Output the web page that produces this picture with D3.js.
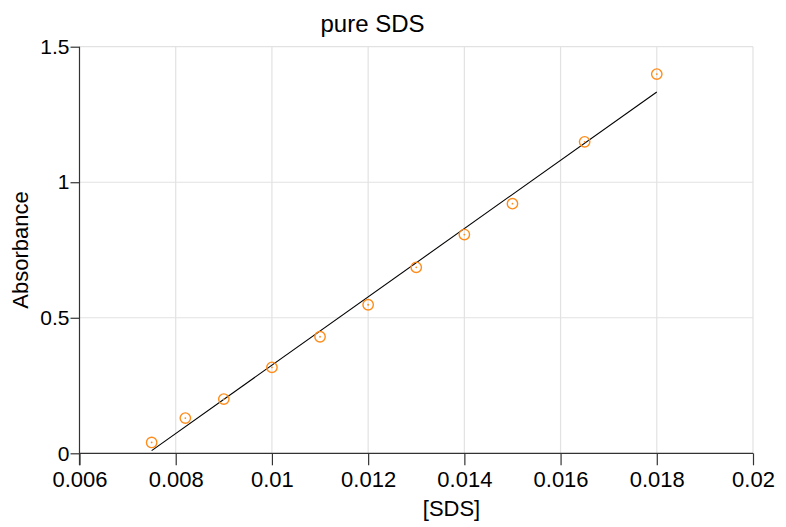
<!DOCTYPE html>
<html>
<head>
<meta charset="utf-8">
<script src="https://cdn.jsdelivr.net/npm/d3@7"></script>
<style>
  body { margin: 0; background: #fff; }
  svg { display: block; font-family: "Liberation Sans", Arial, sans-serif; }
</style>
</head>
<body>
<div id="chart"></div>
<script>
// measured points
var concSDS = [0.0075, 0.0082, 0.009, 0.010, 0.011, 0.012, 0.013, 0.014, 0.015, 0.0165, 0.018];
var absorbance = [0.04, 0.13, 0.20, 0.317, 0.43, 0.548, 0.686, 0.807, 0.921, 1.149, 1.399];
// fitted line ends
var fitX = [0.0075, 0.018];
var fitY = [0.01, 1.333];
var xTicks = [0.006, 0.008, 0.01, 0.012, 0.014, 0.016, 0.018, 0.02];
var yTicks = [0, 0.5, 1, 1.5];

var w = 786, h = 527;
var padL = 79.5, padR = 753, padT = 46.7, padB = 453.3;
var gridColor = "#e2e2e2", axisColor = "#333", markColor = "#ff8c1a";

var svg = d3.select("#chart").append("svg")
  .attr("width", w).attr("height", h);

var x = d3.scaleLinear().domain([0.006, 0.02]).range([padL, padR]);
var y = d3.scaleLinear().domain([0, 1.5]).range([padB, padT]);

// grid
svg.append("g").selectAll("line").data(xTicks.slice(1)).enter().append("line")
  .attr("x1", d => x(d)).attr("x2", d => x(d))
  .attr("y1", padT).attr("y2", padB)
  .attr("stroke", gridColor).attr("stroke-width", 1.2);
svg.append("g").selectAll("line").data(yTicks.slice(1)).enter().append("line")
  .attr("x1", padL).attr("x2", padR)
  .attr("y1", d => y(d)).attr("y2", d => y(d))
  .attr("stroke", gridColor).attr("stroke-width", 1.2);

// axes
var xAxis = d3.axisBottom(x).tickValues(xTicks).tickSize(12).tickPadding(6)
  .tickFormat(d => String(+d.toFixed(4)));
var xg = svg.append("g").attr("transform", "translate(0," + padB + ")").call(xAxis);
xg.select(".domain").remove();
xg.append("line").attr("x1", padL).attr("x2", padR).attr("stroke", axisColor).attr("stroke-width", 1.2);
xg.selectAll(".tick line").attr("stroke", axisColor).attr("stroke-width", 1.2);
xg.selectAll("text").attr("fill", "#000").style("font-size", "22px");

var yAxis = d3.axisLeft(y).tickValues(yTicks).tickSize(9).tickPadding(1)
  .tickFormat(d => String(d));
var yg = svg.append("g").attr("transform", "translate(" + padL + ",0)").call(yAxis);
yg.select(".domain").remove();
yg.append("line").attr("y1", padT).attr("y2", padB + 12).attr("stroke", axisColor).attr("stroke-width", 1.2);
yg.selectAll(".tick line").attr("stroke", axisColor).attr("stroke-width", 1.2);
yg.selectAll("text").attr("fill", "#000").style("font-size", "21px");

// fit line
var line = d3.line().x(d => x(d[0])).y(d => y(d[1]));
svg.append("path")
  .attr("d", line(d3.zip(fitX, fitY)))
  .attr("fill", "none").attr("stroke", "#000").attr("stroke-width", 1.1);

// markers
var pts = svg.append("g").selectAll("g").data(d3.zip(concSDS, absorbance)).enter().append("g")
  .attr("transform", d => "translate(" + x(d[0]) + "," + y(d[1]) + ")");
pts.append("circle").attr("r", 5.2).attr("fill", "none")
  .attr("stroke", markColor).attr("stroke-width", 1.4);
pts.append("circle").attr("r", 0.9).attr("fill", markColor);

// labels
svg.append("text").attr("x", 372.5).attr("y", 31.5).attr("text-anchor", "middle")
  .style("font-size", "24px").text("pure SDS");
svg.append("text").attr("x", 451.5).attr("y", 516).attr("text-anchor", "middle")
  .style("font-size", "22px").text("[SDS]");
svg.append("text").attr("transform", "translate(28,250) rotate(-90)").attr("text-anchor", "middle")
  .style("font-size", "22px").text("Absorbance");
</script>
</body>
</html>
